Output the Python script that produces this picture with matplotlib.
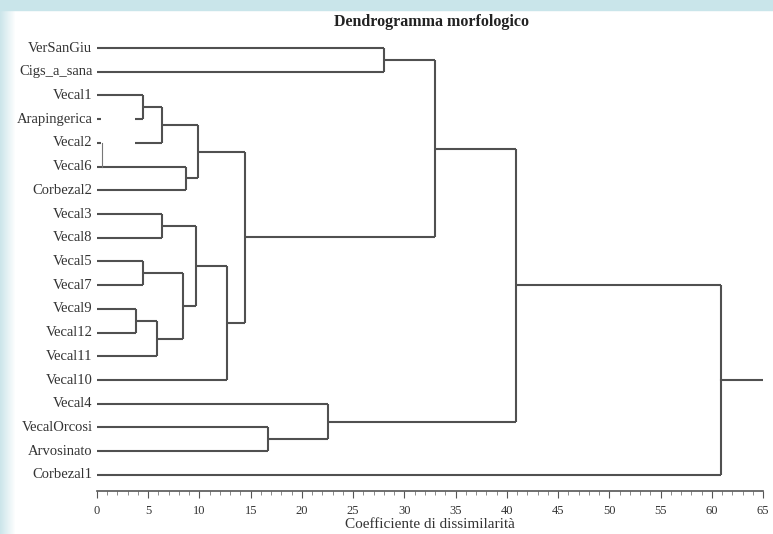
import numpy as np
import matplotlib
matplotlib.use("Agg")
import matplotlib.pyplot as plt
from matplotlib.patches import Rectangle

# leaves, top to bottom
leaves = ["VerSanGiu", "Cigs_a_sana", "Vecal1", "Arapingerica", "Vecal2", "Vecal6",
          "Corbezal2", "Vecal3", "Vecal8", "Vecal5", "Vecal7", "Vecal9", "Vecal12",
          "Vecal11", "Vecal10", "Vecal4", "VecalOrcosi", "Arvosinato", "Corbezal1"]

# merges: (child a, child b, height); new cluster ids start at len(leaves)
merge_a = [2, 19, 5, 20, 7, 9, 11, 25, 24, 23, 28, 22, 0, 31, 16, 15, 32, 35]
merge_b = [3, 4, 6, 21, 8, 10, 12, 13, 26, 27, 14, 29, 1, 30, 17, 33, 34, 18]
heights = [4.5, 6.3, 8.7, 9.9, 6.3, 4.5, 3.8, 5.9, 8.4, 9.7, 12.7, 14.4, 28.0, 33.0,
           16.7, 22.5, 40.9, 60.9]

xmax = 65
xticks = np.arange(0, 66, 5)

plt.rcParams['font.family'] = ['Liberation Serif', 'DejaVu Serif']

fig = plt.figure(figsize=(7.73, 5.34), dpi=100)

# light blue frame strips
fig.patches.append(Rectangle((0, 1 - 10 / 534), 1, 10 / 534, transform=fig.transFigure,
                             color='#c9e5ea', zorder=0))
grad = np.linspace(0, 1, 16)[None, :]
gax = fig.add_axes([0, 0, 16 / 773, 1 - 10 / 534])
gax.imshow(np.dstack([0.80 + 0.2 * grad, 0.90 + 0.1 * grad, 0.92 + 0.08 * grad]),
           aspect='auto', interpolation='bilinear')
gax.axis('off')

ax = fig.add_axes([97 / 773, 1 - 491 / 534, (763 - 97) / 773, (491 - 30) / 534])

n = len(leaves)
pos = {i: float(i) for i in range(n)}
hgt = {i: 0.0 for i in range(n)}
col = '#505050'
lw = 1.5
for k, (a, b, h) in enumerate(zip(merge_a, merge_b, heights)):
    cid = n + k
    ax.plot([hgt[a], h], [pos[a], pos[a]], color=col, lw=lw, solid_capstyle='butt')
    ax.plot([hgt[b], h], [pos[b], pos[b]], color=col, lw=lw, solid_capstyle='butt')
    ax.plot([h, h], [pos[a], pos[b]], color=col, lw=lw, solid_capstyle='butt')
    pos[cid] = (pos[a] + pos[b]) / 2
    hgt[cid] = h
root = n + len(heights) - 1
ax.plot([hgt[root], xmax], [pos[root], pos[root]], color=col, lw=lw)

# white patch covering part of the lines (as in the original image)
ax.add_patch(Rectangle((0.4, 2.45), 3.3, 1.9, facecolor='white', edgecolor='none', zorder=5))
ax.plot([0.45, 0.45], [4.0, 5.0], color='#777777', lw=0.8, zorder=6)

for i, name in enumerate(leaves):
    ax.text(-0.45, i, name, ha='right', va='center', fontsize=10.5, color='#333333')

ax.set_xlim(0, xmax)
ax.set_ylim(18.68, -0.76)
ax.set_yticks([])
for s in ['left', 'top', 'right']:
    ax.spines[s].set_visible(False)
ax.spines['bottom'].set_color('#555555')
ax.spines['bottom'].set_linewidth(1.2)
ax.set_xticks(xticks)
ax.set_xticks(np.arange(0, 66, 1), minor=True)
ax.tick_params(axis='x', which='major', length=5, color='#555555', labelsize=9,
               labelcolor='#333333', pad=5)
ax.tick_params(axis='x', which='minor', length=3, color='#777777')
ax.set_xlabel("Coefficiente di dissimilarità", fontsize=11, color='#333333', labelpad=1)

fig.text(432 / 773, 1 - 22 / 534, "Dendrogramma morfologico", ha='center', va='center',
         fontsize=11.5, fontweight='bold', color='#222222')

fig.savefig("out.png", dpi=100)
